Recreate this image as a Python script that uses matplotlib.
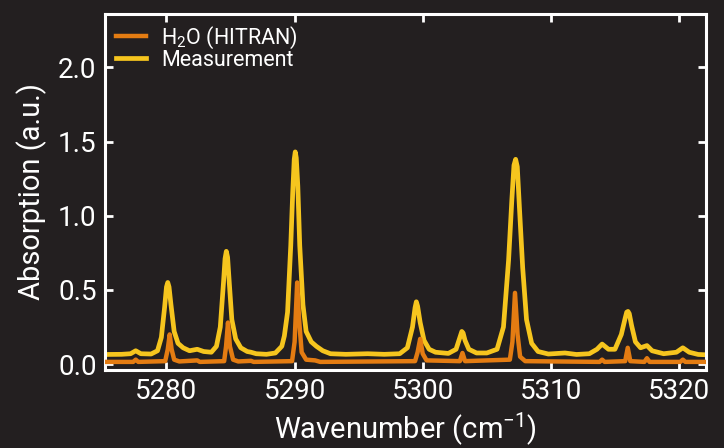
import numpy as np
import matplotlib
matplotlib.use("Agg")
import matplotlib.pyplot as plt

# values (wavenumber in cm-1, absorption a.u.)
meas_x = [5275.2, 5276.5, 5277.2, 5277.6, 5278.0, 5278.8, 5279.3, 5279.6, 5279.85,
          5280.0, 5280.1, 5280.2, 5280.35, 5280.6, 5280.9, 5281.3, 5281.8, 5282.4,
          5282.9, 5283.5, 5283.9, 5284.2, 5284.45, 5284.57, 5284.67, 5284.77, 5284.9,
          5285.1, 5285.4, 5285.8, 5286.3, 5286.6, 5287.0, 5287.8, 5288.5, 5289.0,
          5289.2, 5289.45, 5289.7, 5289.85, 5289.97, 5290.05, 5290.13, 5290.25, 5290.4,
          5290.65, 5290.9, 5291.3, 5291.7, 5292.2, 5292.8, 5294.0, 5295.7, 5297.0,
          5298.2, 5298.8, 5299.2, 5299.4, 5299.5, 5299.6, 5299.8, 5300.1, 5300.5,
          5301.0, 5302.0, 5302.6, 5302.9, 5303.05, 5303.15, 5303.3, 5303.6, 5304.2,
          5305.0, 5305.8, 5306.3, 5306.7, 5306.95, 5307.12, 5307.25, 5307.38, 5307.55,
          5307.8, 5308.1, 5308.5, 5309.0, 5309.8, 5311.1, 5312.0, 5313.0, 5313.6,
          5314.0, 5314.5, 5315.0, 5315.5, 5315.8, 5315.92, 5316.02, 5316.12, 5316.3,
          5316.6, 5317.0, 5317.5, 5317.9, 5318.8, 5319.8, 5320.3, 5320.8, 5321.5,
          5322.1]
meas_y = [0.065, 0.066, 0.07, 0.09, 0.07, 0.068, 0.09, 0.18, 0.38,
          0.52, 0.55, 0.52, 0.40, 0.22, 0.14, 0.11, 0.09, 0.10,
          0.085, 0.08, 0.12, 0.25, 0.55, 0.71, 0.76, 0.72, 0.55,
          0.30, 0.17, 0.11, 0.085, 0.08, 0.07, 0.066, 0.075, 0.12,
          0.19, 0.35, 0.80, 1.15, 1.38, 1.43, 1.39, 1.20, 0.80,
          0.40, 0.22, 0.15, 0.12, 0.09, 0.07, 0.066, 0.07, 0.066,
          0.07, 0.11, 0.25, 0.38, 0.42, 0.39, 0.28, 0.16, 0.10,
          0.08, 0.072, 0.10, 0.18, 0.22, 0.21, 0.16, 0.10, 0.075,
          0.075, 0.10, 0.25, 0.70, 1.10, 1.34, 1.38, 1.33, 1.05,
          0.65, 0.30, 0.14, 0.085, 0.068, 0.075, 0.065, 0.07, 0.10,
          0.135, 0.10, 0.10, 0.20, 0.31, 0.35, 0.355, 0.34, 0.26,
          0.15, 0.11, 0.125, 0.09, 0.07, 0.08, 0.11, 0.08, 0.065,
          0.063]

hitran_x = [5275.2, 5277.4, 5277.6, 5277.8, 5279.9, 5280.1, 5280.25, 5280.4, 5280.6,
            5281.0, 5282.4, 5282.6, 5284.5, 5284.65, 5284.8, 5284.95, 5285.2, 5285.6,
            5286.6, 5286.8, 5289.8, 5290.0, 5290.2, 5290.35, 5290.55, 5290.9, 5291.6,
            5292.0, 5299.4, 5299.6, 5299.8, 5300.0, 5300.3, 5302.9, 5303.1, 5303.3,
            5306.8, 5307.0, 5307.2, 5307.4, 5307.6, 5308.0, 5313.8, 5314.0, 5314.2,
            5315.8, 5316.0, 5316.2, 5317.3, 5317.5, 5317.7, 5320.1, 5320.3, 5320.5,
            5322.1]
hitran_y = [0.015, 0.015, 0.03, 0.015, 0.02, 0.10, 0.20, 0.10, 0.03,
            0.018, 0.025, 0.015, 0.02, 0.12, 0.28, 0.12, 0.03, 0.018,
            0.022, 0.015, 0.02, 0.15, 0.55, 0.30, 0.08, 0.03, 0.025,
            0.015, 0.02, 0.08, 0.17, 0.07, 0.025, 0.02, 0.075, 0.02,
            0.03, 0.15, 0.48, 0.20, 0.05, 0.02, 0.015, 0.03, 0.015,
            0.02, 0.11, 0.02, 0.015, 0.04, 0.015, 0.015, 0.03, 0.015,
            0.015]

x_ticks = [5280, 5290, 5300, 5310, 5320]
y_ticks = [0.0, 0.5, 1.0, 1.5, 2.0]

bg = '#231f20'
fg = 'white'
plt.rcParams['font.family'] = ['Roboto', 'DejaVu Sans']
plt.rcParams['mathtext.fontset'] = 'custom'
plt.rcParams['mathtext.rm'] = 'Roboto'
plt.rcParams['mathtext.it'] = 'Roboto'
plt.rcParams['mathtext.default'] = 'rm'

fig = plt.figure(figsize=(7.24, 4.48), dpi=100, facecolor=bg)
ax = fig.add_axes([0.145, 0.174, 0.83, 0.795], facecolor=bg)

ax.plot(hitran_x, hitran_y, color='#e47c12', lw=3.2, zorder=3,
        solid_joinstyle='round', label=r'H$_2$O (HITRAN)')
ax.plot(meas_x, meas_y, color='#f6c51e', lw=3.4, zorder=2,
        solid_joinstyle='round', label='Measurement')

ax.set_xlim(5275.2, 5322.1)
ax.set_ylim(-0.04, 2.36)
ax.set_xticks(x_ticks)
ax.set_yticks(y_ticks)
ax.yaxis.set_major_formatter(matplotlib.ticker.FormatStrFormatter('%.1f'))

for s in ax.spines.values():
    s.set_color(fg)
    s.set_linewidth(2.2)
ax.tick_params(direction='in', top=True, right=True, length=6, width=2,
               color=fg, labelcolor=fg, labelsize=20, pad=6)

ax.set_xlabel(r'Wavenumber (cm$^{\mathregular{-1}}$)', color=fg, fontsize=21, labelpad=4)
ax.set_ylabel('Absorption (a.u.)', color=fg, fontsize=21, labelpad=8)

leg = ax.legend(loc='upper left', frameon=False, fontsize=15.5, handlelength=1.4,
                handletextpad=0.7, labelspacing=-0.05, borderaxespad=0.15, borderpad=0.35)
for t in leg.get_texts():
    t.set_color(fg)

plt.savefig('out.png', dpi=100, facecolor=bg)
